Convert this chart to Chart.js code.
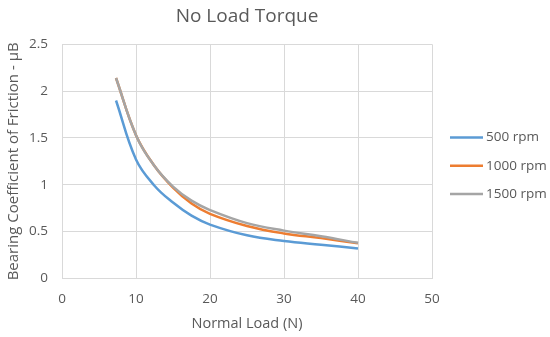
<!DOCTYPE html>
<html>
<head>
<meta charset="utf-8">
<script src="https://cdn.jsdelivr.net/npm/chart.js@4"></script>
<style>
  html, body { margin: 0; padding: 0; background: #fff; }
  #wrap { width: 550px; height: 337px; }
</style>
</head>
<body>
<div id="wrap"><canvas id="torque"></canvas></div>
<script>
// Normal load (N) and friction values
const loads = [7.3, 10, 12.5, 15, 17.5, 20, 25, 30, 35, 40];
const rpm500 = [1.90, 1.27, 0.99, 0.81, 0.67, 0.575, 0.46, 0.40, 0.36, 0.32];
const rpm1000 = [2.14, 1.53, 1.20, 0.97, 0.80, 0.69, 0.56, 0.48, 0.43, 0.375];
const rpm1500 = [2.14, 1.53, 1.20, 0.98, 0.83, 0.73, 0.59, 0.51, 0.45, 0.38];
const seriesNames = ['500 rpm', '1000 rpm', '1500 rpm'];
const xTicks = [0, 10, 20, 30, 40, 50];
const yTicks = [0, 0.5, 1, 1.5, 2, 2.5];

const textColor = '#595959';
const gridColor = '#d9d9d9';
const font = "'Open Sans', sans-serif";

function pts(vals) {
    return loads.map((x, i) => ({ x: x, y: vals[i] }));
}

function line(label, vals, color, order) {
    return {
        label: label,
        data: pts(vals),
        borderColor: color,
        backgroundColor: color,
        borderWidth: 2.5,
        pointRadius: 0,
        tension: 0.4,
        fill: false,
        order: order // grey on top, blue at the bottom
    };
}

// title centred over the plot area, like Excel does
const centreTitle = {
    id: 'centreTitle',
    afterLayout(chart) {
        if (chart.titleBlock) {
            chart.titleBlock.left = chart.chartArea.left;
            chart.titleBlock.right = chart.chartArea.right;
        }
    }
};

// legend to the right of the plot: short line + label
const sideLegend = {
    id: 'sideLegend',
    afterDraw(chart) {
        const ctx = chart.ctx;
        ctx.save();
        ctx.font = "13.5px " + font;
        ctx.textBaseline = 'middle';
        chart.data.datasets.forEach((ds, i) => {
            const y = 137.5 + i * 28.3;
            ctx.strokeStyle = ds.borderColor;
            ctx.lineWidth = 2.5;
            ctx.beginPath();
            ctx.moveTo(450, y);
            ctx.lineTo(483, y);
            ctx.stroke();
            ctx.fillStyle = textColor;
            ctx.fillText(ds.label, 486, y);
        });
        ctx.restore();
    }
};

new Chart(document.getElementById('torque'), {
    type: 'line',
    data: {
        datasets: [
            line(seriesNames[0], rpm500, '#5b9bd5', 3),
            line(seriesNames[1], rpm1000, '#ed7d31', 2),
            line(seriesNames[2], rpm1500, '#a5a5a5', 1)
        ]
    },
    options: {
        responsive: true,
        maintainAspectRatio: false,
        animation: false,
        layout: { padding: { left: 4, right: 118, top: 5, bottom: 4 } },
        scales: {
            x: {
                type: 'linear',
                min: xTicks[0],
                max: xTicks[xTicks.length - 1],
                afterBuildTicks: (axis) => { axis.ticks = xTicks.map(v => ({ value: v })); },
                grid: { color: gridColor, drawTicks: false },
                border: { color: gridColor },
                ticks: { color: textColor, font: { family: font, size: 13.5 }, padding: 13 },
                title: {
                    display: true,
                    text: 'Normal Load (N)',
                    color: textColor,
                    font: { family: font, size: 14.5 },
                    padding: { top: -5, bottom: 0 }
                }
            },
            y: {
                min: yTicks[0],
                max: yTicks[yTicks.length - 1],
                afterBuildTicks: (axis) => { axis.ticks = yTicks.map(v => ({ value: v })); },
                afterFit: (axis) => { axis.width = 58; },
                grid: { color: gridColor, drawTicks: false },
                border: { color: gridColor },
                ticks: {
                    color: textColor,
                    font: { family: font, size: 13.5 },
                    padding: 14,
                    callback: (v) => String(v)
                },
                title: {
                    display: true,
                    text: 'Bearing Coefficient of Friction - μB',
                    color: textColor,
                    font: { family: font, size: 15 },
                    padding: { top: 1, bottom: 2 }
                }
            }
        },
        plugins: {
            title: {
                display: true,
                text: 'No Load Torque',
                color: textColor,
                font: { family: font, size: 19, weight: 'normal' },
                padding: { top: 0, bottom: 16.5 }
            },
            legend: { display: false },
            tooltip: { enabled: false }
        }
    },
    plugins: [centreTitle, sideLegend]
});
</script>
</body>
</html>
